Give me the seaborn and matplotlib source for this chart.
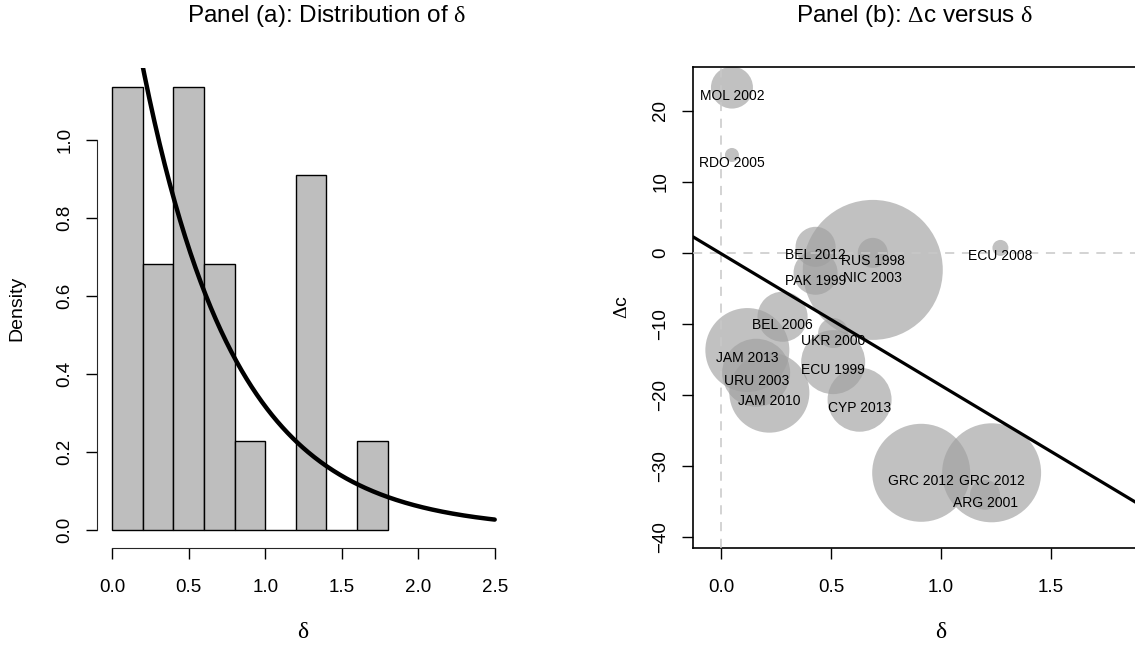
import numpy as np
import pandas as pd
import seaborn as sns
import matplotlib
matplotlib.use('Agg')
import matplotlib.pyplot as plt

# panel (a): histogram of delta (counts per 0.2 bin) and fitted exponential
bin_edges = [0.0, 0.2, 0.4, 0.6, 0.8, 1.0, 1.2, 1.4, 1.6, 1.8]
bin_counts = [5, 3, 5, 3, 1, 0, 4, 0, 1]
exp_rate = 1.65

# panel (b): episodes, delta vs change in c, bubble weight
episode = ['MOL 2002', 'RDO 2005', 'BEL 2012', 'RUS 1998', 'ECU 2008', 'NIC 2003',
           'PAK 1999', 'BEL 2006', 'UKR 2000', 'JAM 2013', 'URU 2003', 'JAM 2010',
           'ECU 1999', 'CYP 2013', 'GRC 2012', 'GRC 2012', 'ARG 2001']
delta = [0.05, 0.05, 0.43, 0.69, 1.27, 0.69, 0.43, 0.28, 0.51, 0.12, 0.16, 0.22,
         0.51, 0.63, 0.91, 1.23, 1.20]
dc = [23.3, 13.8, 0.85, 0.0, 0.7, -2.4, -2.8, -9.0, -11.3, -13.7, -16.9, -19.7,
      -15.4, -20.7, -31.0, -31.0, -34.1]
weight = [9.0, 1.0, 8.2, 4.6, 1.3, 100.0, 9.9, 12.8, 4.6, 36.0, 23.6, 32.7,
          20.9, 20.9, 49.0, 50.0, 4.6]
fit_intercept = -0.1
fit_slope = -18.6

sns.set_style('ticks')
plt.rcParams['font.family'] = ['Liberation Sans', 'DejaVu Sans']
plt.rcParams['mathtext.fontset'] = 'custom'
plt.rcParams['mathtext.rm'] = 'Liberation Serif'
plt.rcParams['mathtext.default'] = 'rm'
for k in ['text.color', 'axes.labelcolor', 'xtick.color', 'ytick.color']:
    plt.rcParams[k] = 'black'

W, H = 1135, 648
fig = plt.figure(figsize=(W / 100, H / 100), dpi=100)

def box(l, t, r, b):
    return [l / W, 1 - b / H, (r - l) / W, (b - t) / H]

# ---------- panel (a)
ax1 = fig.add_axes(box(97, 68, 510, 548))
mids = [(bin_edges[i] + bin_edges[i + 1]) / 2 for i in range(len(bin_counts))]
sns.histplot(x=mids, weights=bin_counts, bins=bin_edges, stat='density',
             color='#BEBEBE', edgecolor='black', linewidth=1.0, alpha=1, ax=ax1)
xs = np.linspace(0, 2.5, 300)
sns.lineplot(x=xs, y=exp_rate * np.exp(-exp_rate * xs), color='black', lw=3.2, ax=ax1)
ax1.set_xlim(-0.1, 2.6)
ax1.set_ylim(-0.0462, 1.1846)
ax1.set_xticks([0.0, 0.5, 1.0, 1.5, 2.0, 2.5])
ax1.set_yticks([0.0, 0.2, 0.4, 0.6, 0.8, 1.0])
ax1.set_xticklabels(['0.0', '0.5', '1.0', '1.5', '2.0', '2.5'])
ax1.set_yticklabels(['0.0', '0.2', '0.4', '0.6', '0.8', '1.0'])
for s in ['top', 'right']:
    ax1.spines[s].set_visible(False)
ax1.spines['left'].set_bounds(0, 1.0)
ax1.spines['bottom'].set_bounds(0, 2.5)
ax1.set_xlabel(r'$\delta$', fontsize=17)
ax1.set_ylabel('Density', fontsize=14)
ax1.xaxis.set_label_coords(0.5, -0.175)
ax1.yaxis.set_label_coords(-0.194, 0.5)

# ---------- panel (b)
ax2 = fig.add_axes(box(693, 67, 1189, 548))
df = pd.DataFrame({'delta': delta, 'dc': dc, 'weight': weight})
sns.scatterplot(data=df, x='delta', y='dc', size='weight',
                sizes=(101.6 * min(weight), 101.6 * max(weight)),
                color='#A0A0A0', alpha=0.65, linewidth=0, legend=False,
                zorder=2, ax=ax2)
ax2.axhline(0, color='#C8C8C8', lw=1.1, dashes=(6, 5), zorder=3)
ax2.axvline(0, color='#C8C8C8', lw=1.1, dashes=(6, 5), zorder=3)
for name, x, y in zip(episode, delta, dc):
    ax2.annotate(name, (x, y), xytext=(0, -6), textcoords='offset points',
                 ha='center', va='center', fontsize=10, zorder=4)
ax2.axline((0, fit_intercept), slope=fit_slope, color='black', lw=2.3, zorder=5)
ax2.set_xlim(-0.127, 2.127)
ax2.set_ylim(-41.6, 26.2)
ax2.set_xticks([0.0, 0.5, 1.0, 1.5])
ax2.set_xticklabels(['0.0', '0.5', '1.0', '1.5'])
ax2.set_yticks([-40, -30, -20, -10, 0, 10, 20])
ax2.set_yticklabels(['\u221240', '\u221230', '\u221220', '\u221210', '0', '10', '20'])
ax2.set_xlabel(r'$\delta$', fontsize=17)
ax2.set_ylabel(r'$\Delta$c', fontsize=14)
ax2.xaxis.set_label_coords(0.5, -0.175)
ax2.yaxis.set_label_coords(-0.143, 0.5)
for s in ax2.spines.values():
    s.set_linewidth(1.2)
    s.set_color('black')

for ax in (ax1, ax2):
    ax.tick_params(axis='both', direction='out', length=8, width=1, labelsize=13.5,
                   color='black')
    ax.tick_params(axis='x', pad=14)
    ax.tick_params(axis='y', pad=9)
    ax.xaxis.label.set_va('center')
    ax.yaxis.label.set_va('center')
    for lab in ax.get_yticklabels():
        lab.set_rotation(90)
        lab.set_va('center')

fig.text(327 / W, 1 - 16 / H, r'Panel (a): Distribution of $\delta$',
         ha='center', va='center', fontsize=17.5)
fig.text(914 / W, 1 - 16 / H, r'Panel (b): $\Delta$c versus $\delta$',
         ha='center', va='center', fontsize=17.5)

fig.savefig('out.png', dpi=100)
